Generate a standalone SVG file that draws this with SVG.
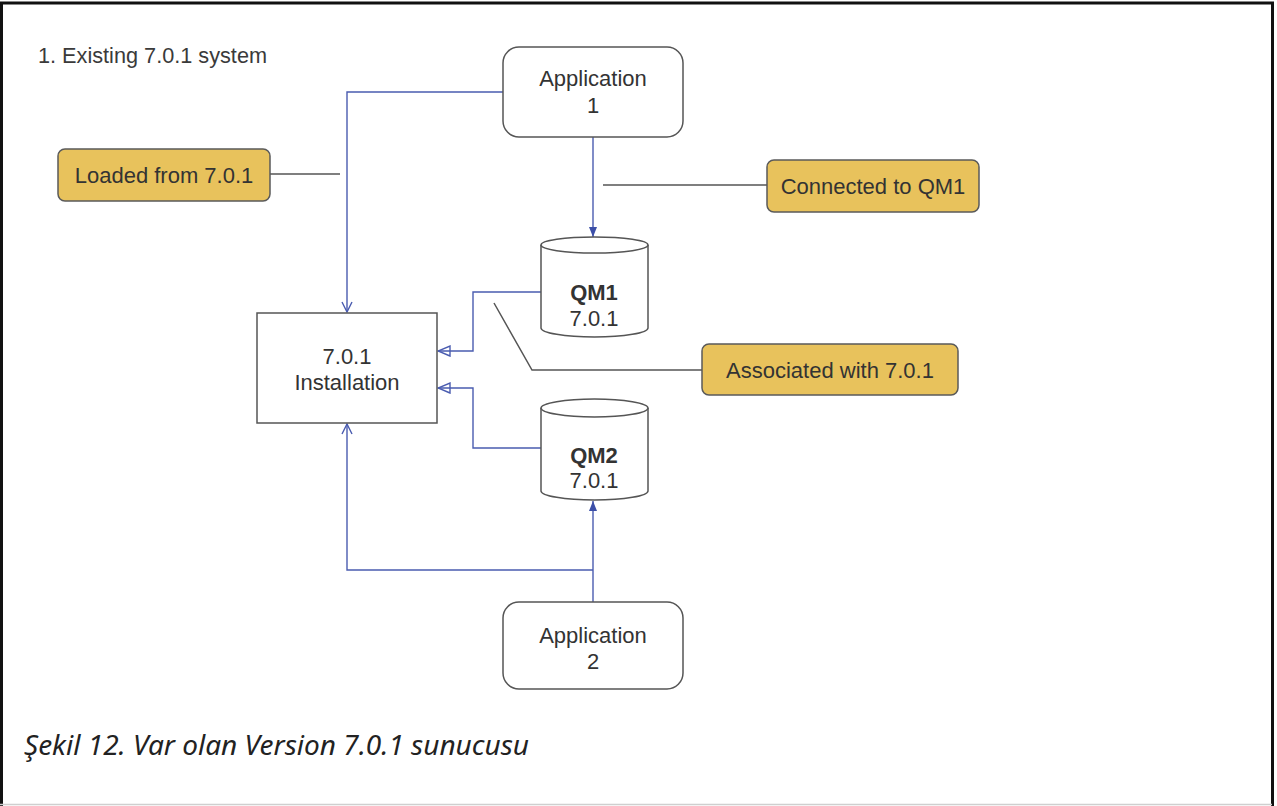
<svg xmlns="http://www.w3.org/2000/svg" width="1277" height="806" viewBox="0 0 1277 806">
<defs>
<style>
.t{font-family:"Liberation Sans",Arial,Helvetica,sans-serif;font-size:22px;fill:#333;text-anchor:middle}
.b{font-weight:bold}
.shape{fill:#fff;stroke:#555;stroke-width:1.5}
.note{fill:#E8C25C;stroke:#5a5a5a;stroke-width:1.5}
.conn{fill:none;stroke:#4a5cb0;stroke-width:1.4}
.call{fill:none;stroke:#555;stroke-width:1.5}
</style>
<marker id="filled" markerUnits="userSpaceOnUse" markerWidth="10" markerHeight="10" refX="10" refY="5" orient="auto" viewBox="0 0 10 10">
<path d="M0,1 L10,5 L0,9 z" fill="#3c4fa8"/>
</marker>
<marker id="open" markerUnits="userSpaceOnUse" markerWidth="12" markerHeight="12" refX="11" refY="6" orient="auto" viewBox="0 0 12 12">
<path d="M1,1 L11,6 L1,11" fill="none" stroke="#4a5cb0" stroke-width="1.4"/>
</marker>
<marker id="hollow" markerUnits="userSpaceOnUse" markerWidth="14" markerHeight="12" refX="13" refY="6" orient="auto" viewBox="0 0 14 12">
<path d="M1,1 L13,6 L1,11 z" fill="none" stroke="#4a5cb0" stroke-width="1.4"/>
</marker>
</defs>
<rect x="0" y="0" width="1277" height="806" fill="#fff"/>
<path d="M1.5,806 V3 H1272.5 V806" fill="none" stroke="#111" stroke-width="3"/>
<line x1="0" y1="804.5" x2="1272" y2="804.5" stroke="#cfcfcf" stroke-width="1.5"/>

<text x="38" y="63" font-family="Liberation Sans,Arial,sans-serif" font-size="21.7" fill="#3a3a3a">1. Existing 7.0.1 system</text>

<g id="connectors">
<path class="conn" d="M503,92 H347 V312" marker-end="url(#open)"/>
<path class="conn" d="M593,137 V237" marker-end="url(#filled)"/>
<path class="conn" d="M541,292 H473 V351 H438" marker-end="url(#hollow)"/>
<path class="conn" d="M541,448 H473 V388 H438" marker-end="url(#hollow)"/>
<path class="conn" d="M593,602 V501" marker-end="url(#filled)"/>
<path class="conn" d="M593,570 H347 V424" marker-end="url(#open)"/>
<path class="call" d="M270,174 H340"/>
<path class="call" d="M603,185 H767"/>
<path class="call" d="M494,303 L532,370 H702"/>
</g>

<g id="app1">
<rect class="shape" x="503" y="47" width="180" height="90" rx="16"/>
<text class="t" x="593" y="86">Application</text>
<text class="t" x="593" y="113">1</text>
</g>

<g id="install">
<rect class="shape" x="257" y="313" width="180" height="110"/>
<text class="t" x="347" y="364">7.0.1</text>
<text class="t" x="347" y="390">Installation</text>
</g>

<g id="qm1">
<path class="shape" d="M541,245 V328 A53.5,9 0 0 0 648,328 V245"/>
<ellipse class="shape" cx="594.5" cy="245" rx="53.5" ry="8"/>
<text class="t b" x="594" y="300">QM1</text>
<text class="t" x="594" y="326">7.0.1</text>
</g>

<g id="qm2">
<path class="shape" d="M541,408 V491 A53.5,9 0 0 0 648,491 V408"/>
<ellipse class="shape" cx="594.5" cy="408" rx="53.5" ry="9"/>
<text class="t b" x="594" y="463">QM2</text>
<text class="t" x="594" y="488">7.0.1</text>
</g>

<g id="app2">
<rect class="shape" x="503" y="602" width="180" height="87" rx="16"/>
<text class="t" x="593" y="643">Application</text>
<text class="t" x="593" y="669">2</text>
</g>

<g id="note-loaded">
<rect class="note" x="58" y="149" width="212" height="52" rx="7"/>
<text class="t" x="164" y="183">Loaded from 7.0.1</text>
</g>

<g id="note-connected">
<rect class="note" x="767" y="160" width="212" height="52" rx="7"/>
<text class="t" x="873" y="194">Connected to QM1</text>
</g>

<g id="note-associated">
<rect class="note" x="702" y="344" width="256" height="51" rx="7"/>
<text class="t" x="830" y="378">Associated with 7.0.1</text>
</g>

<text x="24" y="755" font-family="Noto Sans,Open Sans,sans-serif" font-style="italic" font-size="28" fill="#222">Şekil 12. Var olan Version 7.0.1 sunucusu</text>
</svg>
